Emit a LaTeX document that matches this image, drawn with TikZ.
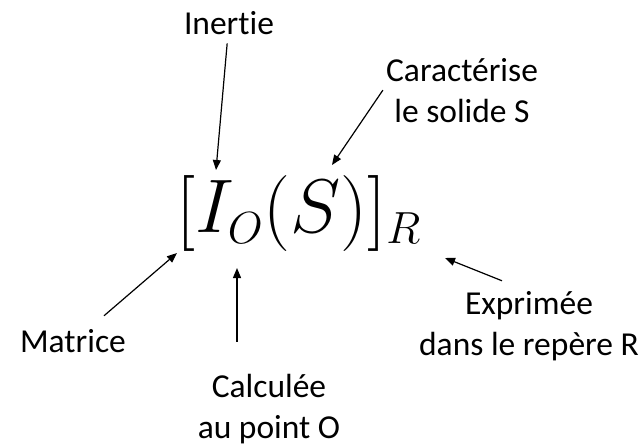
\RequirePackage{fix-cm}
\documentclass[tikz,border=0pt]{standalone}
\usepackage{fontspec}
\setmainfont[Ligatures=NoCommon]{Carlito}
\usepackage{tikz}
\usetikzlibrary{arrows.meta,positioning,calc}
\DeclareMathSizes{76}{76}{45}{35}

\begin{document}
\begin{tikzpicture}[x=1pt, y=-1pt,
  etiquette/.style={font=\fontsize{33.5}{41}\selectfont, align=center, anchor=base, inner sep=3pt},
  fleche/.style={-{Triangle[length=10pt,width=8pt]}, line width=1.2pt}]
  \useasboundingbox (0,0) rectangle (644,445);

  % formule centrale
  \node[anchor=base west, inner sep=0pt, font=\fontsize{76}{88}\selectfont] (formule) at (176,232) {$[I_O(S)]_R$};

  % etiquettes (base = derniere ligne)
  \node[etiquette] (inertie) at (229,34) {Inertie};
  \node[etiquette] (caract) at (462,122) {Caractérise\\le solide S};
  \node[etiquette] (matrice) at (73,352) {Matrice};
  \node[etiquette] (calcul) at (269,438) {Calculée\\au point O};
  \node[etiquette] (expr) at (529,355) {Exprimée\\dans le repère R};

  % pointes des fleches
  \coordinate (pI) at (216,170);
  \coordinate (pS) at (332,165);
  \coordinate (pM) at (177,253);
  \coordinate (pO) at (237,268);
  \coordinate (pR) at (445,258);

  \draw[fleche, shorten <=6pt] (inertie) -- (pI);
  \draw[fleche] (caract.west) -- (pS);
  \draw[fleche] ([xshift=31pt,yshift=10pt]matrice.north) -- (pM);
  \draw[fleche] ([xshift=-32pt,yshift=29pt]calcul.north) -- (pO);
  \draw[fleche] ([xshift=-27pt,yshift=7pt]expr.north) -- (pR);
\end{tikzpicture}
\end{document}
